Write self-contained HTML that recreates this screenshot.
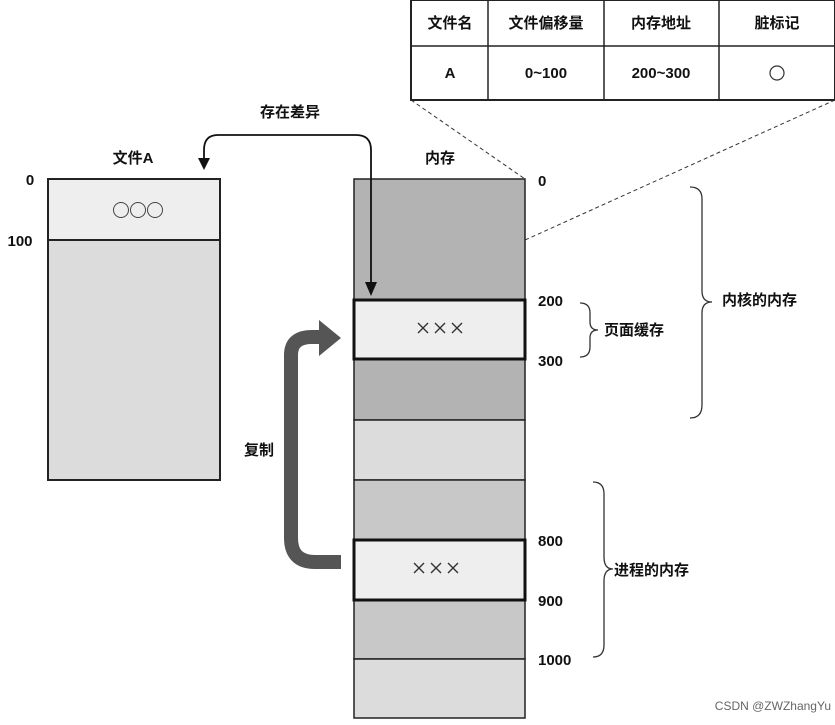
<!DOCTYPE html>
<html><head><meta charset="utf-8"><style>
body{margin:0;background:#fff;}
text{font-family:"Liberation Sans","Noto Sans CJK SC",sans-serif;font-size:15px;fill:#111;}
.b{font-weight:bold;}
</style></head><body>
<svg width="835" height="720" xmlns="http://www.w3.org/2000/svg">
<!-- table -->
<rect x="411" y="0" width="424" height="100" fill="#fff" stroke="#222" stroke-width="2"/>
<line x1="411" y1="46" x2="835" y2="46" stroke="#222" stroke-width="1.5"/>
<line x1="488" y1="0" x2="488" y2="100" stroke="#222" stroke-width="1.5"/>
<line x1="604" y1="0" x2="604" y2="100" stroke="#222" stroke-width="1.5"/>
<line x1="719" y1="0" x2="719" y2="100" stroke="#222" stroke-width="1.5"/>
<g text-anchor="middle">
<text x="450" y="28" class="b">文件名</text><text x="546" y="28" class="b">文件偏移量</text><text x="661" y="28" class="b">内存地址</text><text x="777" y="28" class="b">脏标记</text>
<text x="450" y="78" class="b">A</text><text x="546" y="78" class="b">0~100</text><text x="661" y="78" class="b">200~300</text>
</g>
<circle cx="777" cy="73" r="7" fill="none" stroke="#333" stroke-width="1.2"/>
<line x1="411" y1="100" x2="525" y2="179" stroke="#333" stroke-dasharray="4,3"/>
<line x1="835" y1="100" x2="525" y2="240" stroke="#333" stroke-dasharray="4,3"/>
<!-- file A -->
<text x="133" y="163" text-anchor="middle" class="b">文件A</text>
<rect x="48" y="179" width="172" height="61" fill="#eeeeee" stroke="#222" stroke-width="2"/>
<rect x="48" y="240" width="172" height="240" fill="#dcdcdc" stroke="#222" stroke-width="2"/>
<circle cx="121" cy="210" r="7.5" fill="none" stroke="#444"/><circle cx="138" cy="210" r="7.5" fill="none" stroke="#444"/><circle cx="155" cy="210" r="7.5" fill="none" stroke="#444"/>
<text x="30" y="185" text-anchor="middle" class="b">0</text>
<text x="20" y="246" text-anchor="middle" class="b">100</text>
<!-- memory -->
<text x="440" y="163" text-anchor="middle" class="b">内存</text>
<g stroke="#222" stroke-width="1.5">
<rect x="354" y="179" width="171" height="121" fill="#b3b3b3"/>
<rect x="354" y="359" width="171" height="61" fill="#b3b3b3"/>
<rect x="354" y="420" width="171" height="60" fill="#dcdcdc"/>
<rect x="354" y="480" width="171" height="60" fill="#c8c8c8"/>
<rect x="354" y="600" width="171" height="59" fill="#c8c8c8"/>
<rect x="354" y="659" width="171" height="59" fill="#dcdcdc"/>
</g>
<rect x="354" y="300" width="171" height="59" fill="#eeeeee" stroke="#111" stroke-width="3"/>
<rect x="354" y="540" width="171" height="60" fill="#eeeeee" stroke="#111" stroke-width="3"/>
<g stroke="#333" stroke-width="1.4">
<path d="M418,323 L428,333 M428,323 L418,333 M435,323 L445,333 M445,323 L435,333 M452,323 L462,333 M462,323 L452,333"/>
<path d="M414,563 L424,573 M424,563 L414,573 M431,563 L441,573 M441,563 L431,573 M448,563 L458,573 M458,563 L448,573"/>
</g>
<g>
<text x="538" y="186" class="b">0</text>
<text x="538" y="306" class="b">200</text>
<text x="538" y="366" class="b">300</text>
<text x="538" y="546" class="b">800</text>
<text x="538" y="606" class="b">900</text>
<text x="538" y="665" class="b">1000</text>
</g>
<!-- braces -->
<g fill="none" stroke="#333" stroke-width="1.3">
<path d="M580,303 Q590,303 590,313 L590,322 Q590,330 598,330 Q590,330 590,338 L590,347 Q590,357 580,357"/>
<path d="M690,187 Q702,187 702,199 L702,291 Q702,302 712,302 Q702,302 702,313 L702,405 Q702,418 690,418"/>
<path d="M593,482 Q604,482 604,494 L604,557 Q604,569 613,569 Q604,569 604,581 L604,645 Q604,657 593,657"/>
</g>
<text x="604" y="335" class="b">页面缓存</text>
<text x="722" y="305" class="b">内核的内存</text>
<text x="614" y="575" class="b">进程的内存</text>
<!-- difference arrow -->
<text x="290" y="117" text-anchor="middle" class="b">存在差异</text>
<path d="M371,284 L371,150 Q371,135 356,135 L218,135 Q204,135 204,150 L204,160" fill="none" stroke="#111" stroke-width="1.8"/>
<path d="M198,158 L210,158 L204,170 z" fill="#111"/>
<path d="M365,282 L377,282 L371,296 z" fill="#111"/>
<!-- copy arrow -->
<path d="M341,562 L315,562 Q291,562 291,538 L291,355 Q291,337 312,337 L321,337" fill="none" stroke="#555" stroke-width="14"/>
<path d="M319,320 L341,338 L319,356 z" fill="#555"/>
<text x="244" y="455" class="b">复制</text>
<text x="831" y="710" text-anchor="end" style="font-size:12px;fill:#666">CSDN @ZWZhangYu</text>
</svg>
</body></html>
